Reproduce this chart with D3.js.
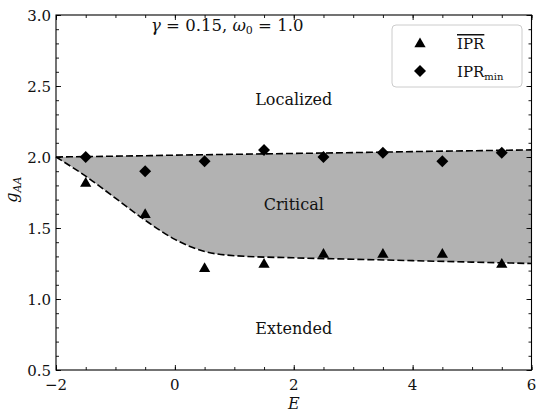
<!DOCTYPE html>
<html>
<head>
<meta charset="utf-8">
<script src="https://cdn.jsdelivr.net/npm/d3@7"></script>
<style>
  body { margin: 0; background: #fff; }
  svg text { fill: #111; }
</style>
</head>
<body>
<svg id="chart" width="537" height="414" font-family="'DejaVu Serif', serif"></svg>
<script>
// energies at which IPR was sampled
const energy = [-1.5, -0.5, 0.5, 1.5, 2.5, 3.5, 4.5, 5.5];
const iprMean = [1.82, 1.60, 1.22, 1.25, 1.32, 1.32, 1.32, 1.25];
const iprMin = [2.00, 1.90, 1.97, 2.05, 2.00, 2.03, 1.97, 2.03];

// phase boundaries (dashed)
const boundaryE = [-2, -1.5, -1, -0.5, 0, 0.5, 1, 2, 3, 4, 5, 6];
const upperG = [2.0, 2.003, 2.006, 2.009, 2.013, 2.016, 2.019, 2.025, 2.031, 2.038, 2.044, 2.05];
const lowerG = [2.0, 1.865, 1.71, 1.555, 1.42, 1.335, 1.305, 1.29, 1.28, 1.27, 1.26, 1.25];

const xTicks = [-2, 0, 2, 4, 6];
const yTicks = [0.5, 1.0, 1.5, 2.0, 2.5, 3.0];

const margin = { left: 56, right: 5.5, top: 15, bottom: 44 };
const width = 537, height = 414;

const svg = d3.select('#chart');
const x = d3.scaleLinear().domain([-2, 6]).range([margin.left, width - margin.right]);
const y = d3.scaleLinear().domain([0.5, 3.0]).range([height - margin.bottom, margin.top]);

const band = boundaryE.map((e, i) => ({ e, lo: lowerG[i], hi: upperG[i] }));

svg.append('path')
  .datum(band)
  .attr('fill', '#b2b2b2')
  .attr('d', d3.area().curve(d3.curveMonotoneX)
    .x(d => x(d.e)).y0(d => y(d.lo)).y1(d => y(d.hi)));

const lineGen = d3.line().curve(d3.curveMonotoneX);
[upperG, lowerG].forEach(g => {
  svg.append('path')
    .attr('fill', 'none')
    .attr('stroke', '#000')
    .attr('stroke-width', 1.6)
    .attr('stroke-dasharray', '7,3')
    .attr('d', lineGen(boundaryE.map((e, i) => [x(e), y(g[i])])));
});

// markers
const tri = d3.symbol().type(d3.symbolTriangle).size(55);
const dia = d3.symbol().type(d3.symbolSquare).size(72);
svg.append('g').selectAll('path').data(energy).join('path')
  .attr('d', tri)
  .attr('transform', (e, i) => `translate(${x(e)},${y(iprMean[i]) + 1})`)
  .attr('fill', '#000');
svg.append('g').selectAll('path').data(energy).join('path')
  .attr('d', dia)
  .attr('transform', (e, i) => `translate(${x(e)},${y(iprMin[i])}) rotate(45)`)
  .attr('fill', '#000');

// axes: ticks inside, on all four sides
const fmtY = d3.format('.1f');
const ax = svg.append('g');
ax.append('g').attr('transform', `translate(0,${y(0.5)})`)
  .call(d3.axisTop(x).tickValues(d3.range(-2, 6.01, 0.5)).tickSize(3).tickFormat(''));
ax.append('g').attr('transform', `translate(0,${y(0.5)})`)
  .call(d3.axisTop(x).tickValues(xTicks).tickSize(5).tickFormat(''));
ax.append('g').attr('transform', `translate(0,${y(3.0)})`)
  .call(d3.axisBottom(x).tickValues(d3.range(-2, 6.01, 0.5)).tickSize(3).tickFormat(''));
ax.append('g').attr('transform', `translate(0,${y(3.0)})`)
  .call(d3.axisBottom(x).tickValues(xTicks).tickSize(5).tickFormat(''));
ax.append('g').attr('transform', `translate(${x(-2)},0)`)
  .call(d3.axisRight(y).tickValues(d3.range(0.5, 3.01, 0.1)).tickSize(3).tickFormat(''));
ax.append('g').attr('transform', `translate(${x(-2)},0)`)
  .call(d3.axisRight(y).tickValues(yTicks).tickSize(5).tickFormat(''));
ax.append('g').attr('transform', `translate(${x(6)},0)`)
  .call(d3.axisLeft(y).tickValues(d3.range(0.5, 3.01, 0.1)).tickSize(3).tickFormat(''));
ax.append('g').attr('transform', `translate(${x(6)},0)`)
  .call(d3.axisLeft(y).tickValues(yTicks).tickSize(5).tickFormat(''));
ax.selectAll('.domain').remove();
ax.selectAll('line').attr('stroke', '#000').attr('stroke-width', 0.9);

svg.append('rect')
  .attr('x', x(-2)).attr('y', y(3.0))
  .attr('width', x(6) - x(-2)).attr('height', y(0.5) - y(3.0))
  .attr('fill', 'none').attr('stroke', '#000').attr('stroke-width', 1.1);

// tick labels
svg.append('g').selectAll('text').data(xTicks).join('text')
  .attr('x', d => x(d)).attr('y', y(0.5) + 20)
  .attr('text-anchor', 'middle').attr('font-size', 15)
  .text(d => d < 0 ? '\u2212' + Math.abs(d) : d);
svg.append('g').selectAll('text').data(yTicks).join('text')
  .attr('x', x(-2) - 5).attr('y', d => y(d) + 5.5)
  .attr('text-anchor', 'end').attr('font-size', 15)
  .text(d => fmtY(d));

// axis titles
svg.append('text')
  .attr('x', x(2)).attr('y', 409)
  .attr('text-anchor', 'middle').attr('font-size', 16).attr('font-style', 'italic')
  .text('E');
const yl = svg.append('text')
  .attr('transform', `translate(17,${y(1.77)}) rotate(-90)`)
  .attr('text-anchor', 'middle').attr('font-size', 16).attr('font-style', 'italic');
yl.append('tspan').text('g');
yl.append('tspan').attr('font-size', 11).attr('dy', 4).text('AA');

// region labels
const regions = [['Localized', 2, 2.4], ['Critical', 2, 1.66], ['Extended', 2, 0.79]];
svg.append('g').selectAll('text').data(regions).join('text')
  .attr('x', d => x(d[1])).attr('y', d => y(d[2]) + 5)
  .attr('text-anchor', 'middle').attr('font-size', 16)
  .text(d => d[0]);

// parameters
const pt = svg.append('text').attr('x', x(0.88)).attr('y', 31)
  .attr('text-anchor', 'middle').attr('font-size', 16.5);
pt.append('tspan').attr('font-style', 'italic').text('\u03b3');
pt.append('tspan').text(' = 0.15, ');
pt.append('tspan').attr('font-style', 'italic').text('\u03c9');
pt.append('tspan').attr('font-size', 11).attr('dy', 3).text('0');
pt.append('tspan').attr('dy', -3).text(' = 1.0');

// legend
const lg = svg.append('g').attr('transform', 'translate(392,25)');
lg.append('rect').attr('width', 130).attr('height', 62).attr('rx', 4)
  .attr('fill', '#fff').attr('fill-opacity', 0.85)
  .attr('stroke', '#ccc').attr('stroke-width', 1);
lg.append('path').attr('d', tri).attr('transform', 'translate(28,19)').attr('fill', '#000');
lg.append('path').attr('d', dia).attr('transform', 'translate(28,46) rotate(45)').attr('fill', '#000');
lg.append('text').attr('x', 65).attr('y', 24).attr('font-size', 15)
  .attr('text-decoration', 'overline').text('IPR');
const l2 = lg.append('text').attr('x', 65).attr('y', 52).attr('font-size', 15);
l2.append('tspan').text('IPR');
l2.append('tspan').attr('font-size', 10).attr('dy', 3).text('min');
</script>
</body>
</html>
